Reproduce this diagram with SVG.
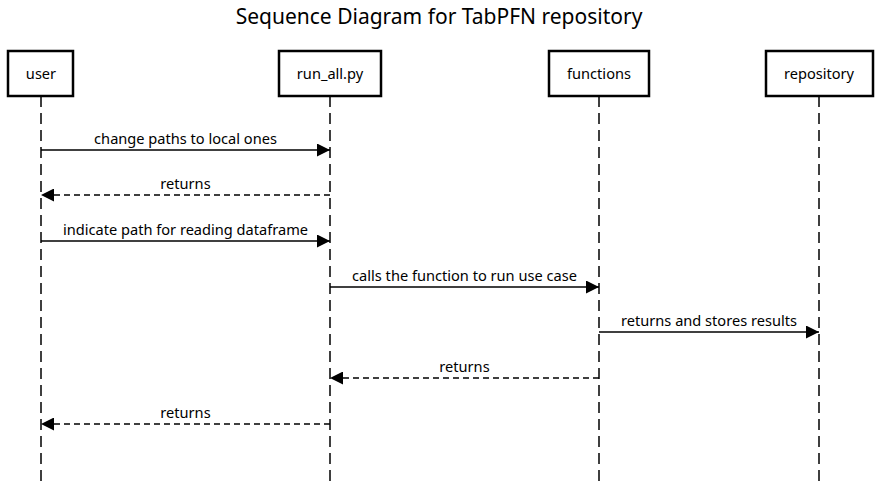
<svg xmlns="http://www.w3.org/2000/svg" width="880" height="481" viewBox="0 0 880 481">
<style>
text{font-family:"Noto Sans","Open Sans","DejaVu Sans",sans-serif;fill:#000}
.title{font-size:21px}
.lbl{font-size:14.6px;text-anchor:middle}
.actor rect{fill:#fff;stroke:#000;stroke-width:2.5}
.life{stroke:#000;stroke-width:1.5;stroke-dasharray:11,6;fill:none}
.msg{stroke:#000;stroke-width:1.5;fill:none}
.dash{stroke-dasharray:6,4}
</style>
<defs>
<marker id="ah" viewBox="0 0 13 13" refX="13" refY="6.5" markerWidth="13" markerHeight="13" markerUnits="userSpaceOnUse" orient="auto">
<path d="M0,0 L13,6.5 L0,13 Z" fill="#000"/>
</marker>
</defs>
<rect width="880" height="481" fill="#fff"/>
<text class="title" x="439" y="24" text-anchor="middle">Sequence Diagram for TabPFN repository</text>
<g id="lifelines">
<line class="life" x1="41" y1="96" x2="41" y2="481"/>
<line class="life" x1="330" y1="96" x2="330" y2="481"/>
<line class="life" x1="599" y1="96" x2="599" y2="481"/>
<line class="life" x1="819" y1="96" x2="819" y2="481"/>
</g>
<g id="user" class="actor"><rect x="8" y="51" width="65" height="45"/><text class="lbl" x="41" y="79">user</text></g>
<g id="run_all" class="actor"><rect x="279" y="51" width="102" height="45"/><text class="lbl" x="330" y="79">run_all.py</text></g>
<g id="functions" class="actor"><rect x="549" y="51" width="100" height="45"/><text class="lbl" x="599" y="79">functions</text></g>
<g id="repository" class="actor"><rect x="766" y="51" width="107" height="45"/><text class="lbl" x="819" y="79">repository</text></g>
<g id="connectors">
<line class="msg" x1="41" y1="150" x2="330" y2="150" marker-end="url(#ah)"/>
<text class="lbl" x="185.5" y="144">change paths to local ones</text>
<line class="msg dash" x1="330" y1="195" x2="41" y2="195" marker-end="url(#ah)"/>
<text class="lbl" x="185.5" y="189">returns</text>
<line class="msg" x1="41" y1="241" x2="330" y2="241" marker-end="url(#ah)"/>
<text class="lbl" x="185.5" y="235">indicate path for reading dataframe</text>
<line class="msg" x1="330" y1="287" x2="599" y2="287" marker-end="url(#ah)"/>
<text class="lbl" x="464.5" y="281">calls the function to run use case</text>
<line class="msg" x1="599" y1="332" x2="819" y2="332" marker-end="url(#ah)"/>
<text class="lbl" x="709" y="326">returns and stores results</text>
<line class="msg dash" x1="599" y1="378" x2="330" y2="378" marker-end="url(#ah)"/>
<text class="lbl" x="464.5" y="372">returns</text>
<line class="msg dash" x1="330" y1="424" x2="41" y2="424" marker-end="url(#ah)"/>
<text class="lbl" x="185.5" y="418">returns</text>
</g>
</svg>
